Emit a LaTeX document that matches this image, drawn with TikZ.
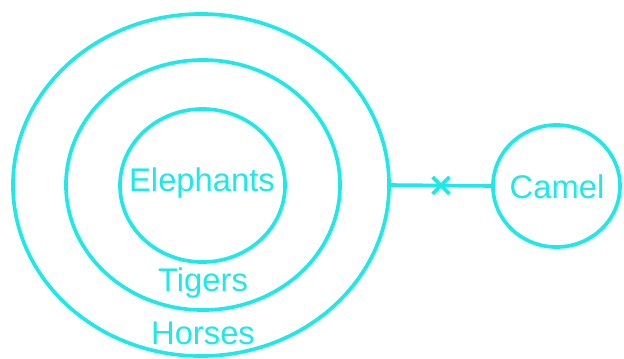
\documentclass[tikz,border=0pt]{standalone}
\usepackage{fontspec}
\setmainfont{Liberation Sans}
\usetikzlibrary{shapes.geometric,shapes.misc}
\definecolor{setcyan}{RGB}{30,232,232}

\begin{document}
\begin{tikzpicture}[x=0.025cm,y=-0.025cm,
    lbl/.style={text=setcyan,font=\fontsize{23.3}{28}\selectfont},
    set/.style={ellipse,draw=setcyan,line width=2.6pt,inner sep=0pt,outer sep=0pt},
    crossmark/.style={cross out,draw=setcyan,line width=2.6pt,minimum size=0.42cm,inner sep=0pt,outer sep=0pt}]
    \useasboundingbox (0,0) rectangle (624,358);

    \node[set,minimum width=9.4cm,minimum height=8.55cm] (horses) at (201,185) {};
    \node[set,minimum width=6.85cm,minimum height=6.25cm] (tigers) at (203,185) {};
    \node[set,minimum width=4.125cm,minimum height=3.825cm] (elephants) at (202.5,185.5) {};
    \node[set,minimum width=3.175cm,minimum height=3.05cm] (camel) at (556.5,186) {};

    \node[lbl] (elephantlbl) at (202,183) {Elephants};
    \node[lbl] (camellbl) at (557,187) {Camel};
    \node[lbl] (tigerlbl) at (203,283) {Tigers};
    \node[lbl] (horselbl) at (203,333) {Horses};

    \draw[setcyan,line width=2.6pt] (horses.east) -- node[crossmark] (cross) {} (camel.west);
\end{tikzpicture}
\end{document}
